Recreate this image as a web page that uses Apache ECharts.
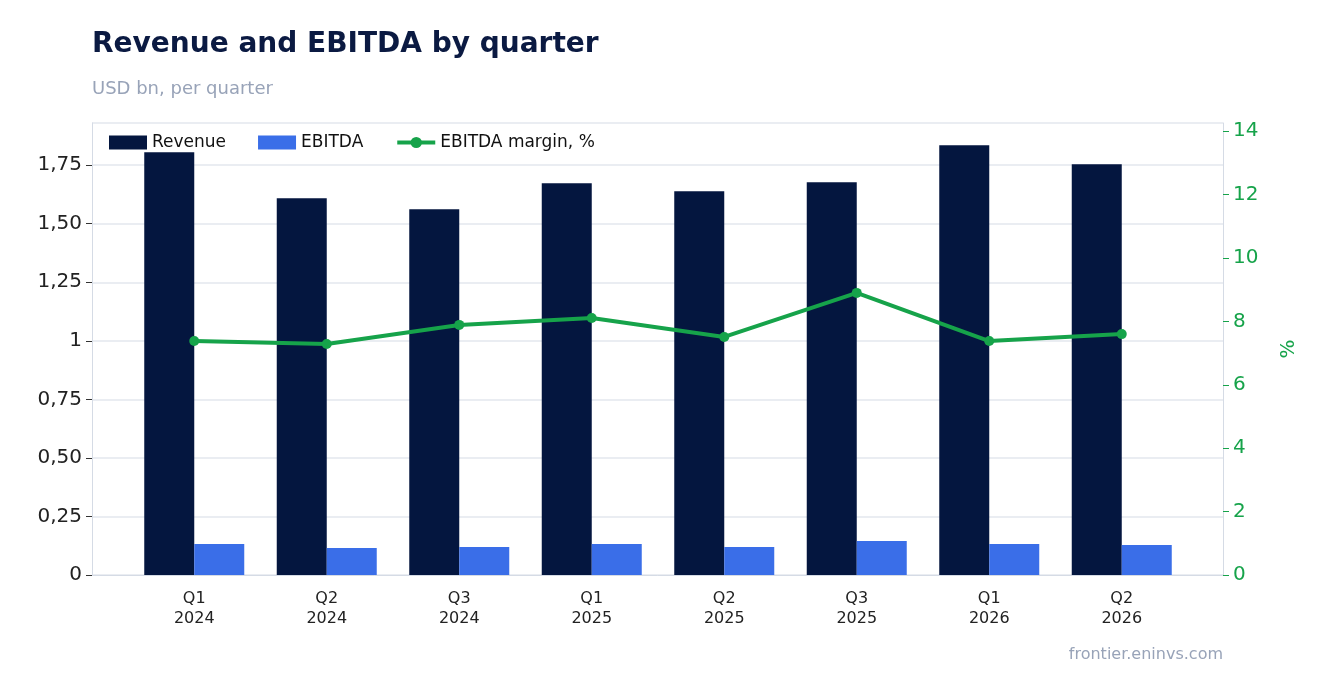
<!DOCTYPE html>
<html><head><meta charset="utf-8">
<script src="https://cdn.jsdelivr.net/npm/echarts@6/dist/echarts.min.js"></script>
<style>html,body{margin:0;padding:0;background:#fff}#c{width:1323px;height:693px}</style>
</head><body><div id="c"></div>
<script>
const categories = ["Q1\n2024","Q2\n2024","Q3\n2024","Q1\n2025","Q2\n2025","Q3\n2025","Q1\n2026","Q2\n2026"];
const revenue = [1.805,1.609,1.562,1.673,1.639,1.677,1.835,1.754];
const ebitda = [0.132,0.115,0.12,0.132,0.12,0.145,0.132,0.128];
const margin = [7.38,7.29,7.89,8.11,7.51,8.9,7.38,7.6];
const chart = echarts.init(document.getElementById('c'));
chart.setOption({
  animation:false,
  textStyle:{fontFamily:'DejaVu Sans'},
  title:[
    {text:'Revenue and EBITDA by quarter',left:87,top:26,textStyle:{fontSize:28,fontWeight:'bold',color:'#0b1a42',fontFamily:'DejaVu Sans'}},
    {text:'USD bn, per quarter',left:87,top:75,textStyle:{fontSize:18,fontWeight:'normal',color:'#98a3b8',fontFamily:'DejaVu Sans'}},
    {text:'frontier.eninvs.com',right:95,top:642,textStyle:{fontSize:16,fontWeight:'normal',color:'#98a3b8',fontFamily:'DejaVu Sans'}}
  ],
  legend:{left:104,top:129,itemWidth:38,itemHeight:14,itemGap:32,textStyle:{fontSize:17,color:'#111'},
    data:[{name:'Revenue',icon:'rect'},{name:'EBITDA',icon:'rect'},{name:'EBITDA margin, %',lineStyle:{width:4}}]},
  grid:[{left:128,right:135,top:123,bottom:118},{left:92,right:100,top:123,bottom:118}],
  xAxis:[
    {type:'category',gridIndex:0,data:categories,axisTick:{show:false},
     axisLine:{show:false},axisLabel:{fontSize:16,color:'#222',margin:14,lineHeight:20}},
    {type:'category',gridIndex:1,data:[''],axisTick:{show:false},axisLabel:{show:false},
     axisLine:{lineStyle:{color:'#d5dbe5'}}}
  ],
  yAxis:[
    {type:'value',gridIndex:0,min:0,max:1.93,interval:0.25,offset:36,
     axisLabel:{fontSize:20,color:'#222',margin:10,showMaxLabel:false,formatter:v=>Number.isInteger(v)?String(v):v.toFixed(2).replace('.',',')},
     axisLine:{show:true,lineStyle:{color:'#d5dbe5'}},axisTick:{show:true,length:6,lineStyle:{color:'#333'}},
     splitLine:{show:false}},
    {type:'value',gridIndex:0,min:0,max:14.26,interval:2,offset:35,name:'%',nameLocation:'middle',nameGap:56,nameRotate:90,
     nameTextStyle:{fontSize:20,color:'#16a34a'},
     axisLabel:{fontSize:20,color:'#16a34a',margin:10,showMaxLabel:false},
     axisLine:{show:true,lineStyle:{color:'#d5dbe5'}},axisTick:{show:true,length:6,lineStyle:{color:'#16a34a'}},
     splitLine:{show:false}},
    {type:'value',gridIndex:1,min:0,max:1.93,interval:0.25,
     axisLabel:{show:false},axisLine:{show:false},axisTick:{show:false},
     splitLine:{lineStyle:{color:'#e3e7ee',width:1.5}}}
  ],
  series:[
    {name:'Revenue',type:'bar',data:revenue,barGap:'0%',barWidth:50,itemStyle:{color:'#04163f'}},
    {name:'EBITDA',type:'bar',data:ebitda,barWidth:50,itemStyle:{color:'#3a6ee8'}},
    {name:'EBITDA margin, %',type:'line',yAxisIndex:1,data:margin,symbol:'circle',symbolSize:10,
     lineStyle:{width:4,color:'#16a34a'},itemStyle:{color:'#16a34a'}}
  ]
});
</script></body></html>
